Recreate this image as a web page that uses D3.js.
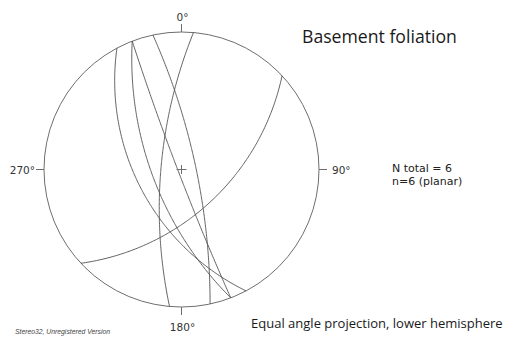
<!DOCTYPE html>
<html>
<head>
<meta charset="utf-8">
<script src="https://cdn.jsdelivr.net/npm/d3@7"></script>
<style>
  html, body { margin: 0; padding: 0; background: #fff; }
  svg { display: block; }
</style>
</head>
<body>
<svg id="chart" width="512" height="340"></svg>
<script>
// Foliation planes: dip direction (deg, clockwise from N) and dip (deg)
const dipDirections = [242, 249, 249, 78, 275, 137];
const dips          = [54, 66, 87, 78, 73, 55];

// Primitive-circle compass labels
const compassAngles = [0, 90, 180, 270];
const compassLabels = ["0°", "90°", "180°", "270°"];

const title = "Basement foliation";
const countLines = ["N total = 6", "n=6 (planar)"];
const footer = "Equal angle projection, lower hemisphere";
const credit = "Stereo32, Unregistered Version";

const W = 512, H = 340;
const cx = 181.5, cy = 169.5, R = 137.5;
const rad = Math.PI / 180;

const svg = d3.select("#chart");

// Size a text so that it spans the given width
function fitWidth(sel, width) {
  const fs = +sel.attr("font-size");
  const w = sel.node().getComputedTextLength();
  if (w > 0) sel.attr("font-size", (fs * width / w).toFixed(2));
  return sel;
}

// Equal-angle (stereographic) radius from plunge, as a D3 scale on tan((90-p)/2)
const rScale = d3.scaleLinear().domain([0, 1]).range([0, R]);
function project(trend, plunge) {
  const r = rScale(Math.tan((90 - plunge) * rad / 2));
  return [cx + r * Math.sin(trend * rad), cy - r * Math.cos(trend * rad)];
}

// Points of a plane's great circle, swept from strike to strike + 180
function greatCircle(dd, dip) {
  const s = (dd - 90) * rad, d = dd * rad, dp = dip * rad;
  const S = [Math.cos(s), Math.sin(s), 0];
  const D = [Math.cos(dp) * Math.cos(d), Math.cos(dp) * Math.sin(d), Math.sin(dp)];
  return d3.range(0, 180.01, 1).map(t => {
    const c = Math.cos(t * rad), n = Math.sin(t * rad);
    const v = [c * S[0] + n * D[0], c * S[1] + n * D[1], Math.max(0, c * S[2] + n * D[2])];
    const plunge = Math.asin(Math.min(1, v[2])) / rad;
    const trend = Math.atan2(v[1], v[0]) / rad;
    return project(trend, plunge);
  });
}

const line = d3.line().curve(d3.curveLinear);

// Primitive circle
svg.append("circle")
  .attr("cx", cx).attr("cy", cy).attr("r", R)
  .attr("fill", "none").attr("stroke", "#6e6e6e").attr("stroke-width", 1);

// Great circles
svg.append("g")
  .selectAll("path")
  .data(dipDirections.map((dd, i) => ({ dd, dip: dips[i] })))
  .join("path")
  .attr("d", p => line(greatCircle(p.dd, p.dip)))
  .attr("fill", "none")
  .attr("stroke", "#505050")
  .attr("stroke-width", 0.9);

// Centre cross
svg.append("path")
  .attr("d", `M${cx - 5},${cy}H${cx + 5}M${cx},${cy - 4.5}V${cy + 4.5}`)
  .attr("stroke", "#6e6e6e").attr("stroke-width", 1);

// Compass ticks and labels
const tickLen = 8;
const labelFont = "DejaVu Sans, Verdana, sans-serif";
compassAngles.forEach((a, i) => {
  const sx = Math.sin(a * rad), sy = -Math.cos(a * rad);
  svg.append("line")
    .attr("x1", cx + R * sx).attr("y1", cy + R * sy)
    .attr("x2", cx + (R + tickLen) * sx).attr("y2", cy + (R + tickLen) * sy)
    .attr("stroke", "#6e6e6e").attr("stroke-width", 1);
  const t = svg.append("text")
    .attr("font-family", labelFont)
    .attr("font-size", 10.5)
    .attr("fill", "#333")
    .text(compassLabels[i]);
  if (a === 0) t.attr("x", cx + 1).attr("y", cy - R - 11).attr("text-anchor", "middle");
  if (a === 180) t.attr("x", cx + 1).attr("y", cy + R + 24).attr("text-anchor", "middle");
  if (a === 90) t.attr("x", cx + R + tickLen + 5).attr("y", cy + 4);
  if (a === 270) t.attr("x", cx - R - tickLen - 1).attr("y", cy + 4).attr("text-anchor", "end");
});

// Title
fitWidth(svg.append("text")
  .attr("x", 302).attr("y", 43)
  .attr("font-family", "Open Sans, sans-serif")
  .attr("font-size", 17)
  .attr("fill", "#1a1a1a")
  .text(title), 155);

// Counts
svg.append("g").selectAll("text")
  .data(countLines)
  .join("text")
  .attr("x", 392)
  .attr("y", (d, i) => 172 + i * 13)
  .attr("font-family", labelFont)
  .attr("font-size", 11)
  .attr("fill", "#222")
  .text(d => d);

// Footer
fitWidth(svg.append("text")
  .attr("x", 251).attr("y", 328)
  .attr("font-family", "Open Sans, sans-serif")
  .attr("font-size", 14)
  .attr("fill", "#1a1a1a")
  .text(footer), 252);

// Credit
fitWidth(svg.append("text")
  .attr("x", 15).attr("y", 334)
  .attr("font-family", "Liberation Sans, Arial, sans-serif")
  .attr("font-size", 6.5)
  .attr("font-style", "italic")
  .attr("fill", "#444")
  .text(credit), 95);
</script>
</body>
</html>
